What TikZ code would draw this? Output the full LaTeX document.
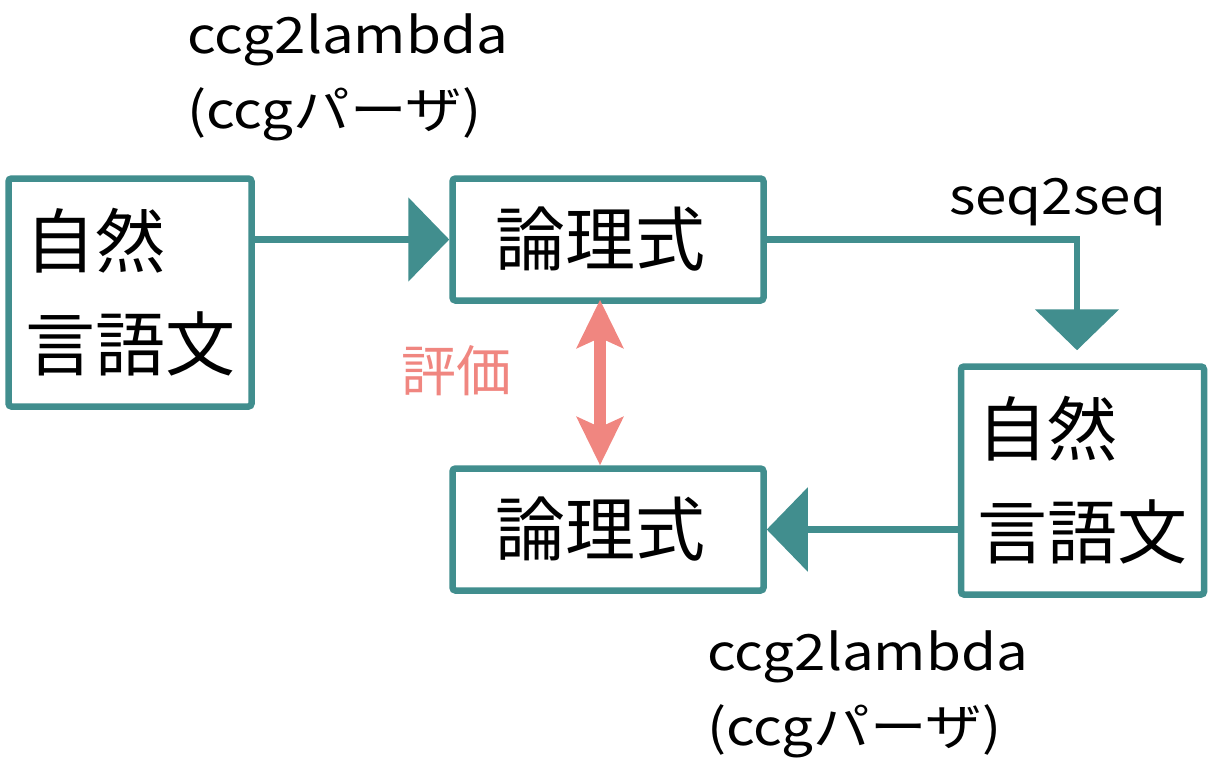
\documentclass[tikz,border=0pt]{standalone}
\usepackage{fontspec}
\setmainfont{Noto Sans CJK JP}
\newfontfamily\lblfont[FakeStretch=1.13]{Noto Sans CJK JP}
\usetikzlibrary{arrows.meta}
\definecolor{boxteal}{HTML}{418E8E}
\definecolor{evalred}{HTML}{F08680}

\begin{document}
\begin{tikzpicture}[x=1pt,y=-1pt]
    \tikzstyle{box}=[draw=boxteal,line width=6.5pt,rounded corners=3pt,fill=white,inner sep=0pt]
    \tikzstyle{sentbox}=[box,minimum width=243pt,minimum height=228pt,align=left,font=\fontsize{70}{103}\selectfont]
    \tikzstyle{logbox}=[box,minimum width=311pt,minimum height=122pt,font=\fontsize{70}{84}\selectfont]
    \tikzstyle{lbl}=[inner sep=0pt,anchor=north west,align=left,font=\fontsize{50}{75}\lblfont]
    \tikzstyle{flow}=[draw=boxteal,line width=6.5pt,-{Triangle[length=0.01pt,width=0.01pt,sep=8pt] Triangle[length=41pt,width=83pt]}]
    \tikzstyle{evalarr}=[draw=evalred,line width=12pt,{Stealth[length=48pt,width=46pt,inset=10pt]}-{Stealth[length=48pt,width=46pt,inset=10pt]}]
    \useasboundingbox (0,0) rectangle (1214,766);
    \node[sentbox] (srcA) at (130,292.5) {自然\\言語文};
    \node[logbox] (logA) at (608,239.5) {論理式\kern16pt};
    \node[logbox] (logB) at (608,529.5) {論理式\kern16pt};
    \node[sentbox] (tgtD) at (1082.5,480.5) {自然\\言語文};
    \node[lbl] (parseA) at (187,13) {ccg2lambda\\(ccgパーザ)};
    \node[lbl] (parseB) at (707,630) {ccg2lambda\\(ccgパーザ)};
    \node[lbl] (s2s) at (949,178) {seq2seq};
    \node[inner sep=0pt,text=evalred,font=\fontsize{55}{60}\selectfont] (evl) at (456,371) {評価};
    \draw[flow] (srcA.east |- logA.west) -- (logA.west);
    \draw[flow,shorten >=13pt] (logA.east) -| ([xshift=-5.5pt]tgtD.north);
    \draw[flow] (tgtD.west |- logB.east) -- (logB.east);
    \draw[evalarr] ([xshift=-8pt,yshift=4pt]logA.south) -- ([xshift=-8pt]logB.north);
\end{tikzpicture}
\end{document}
